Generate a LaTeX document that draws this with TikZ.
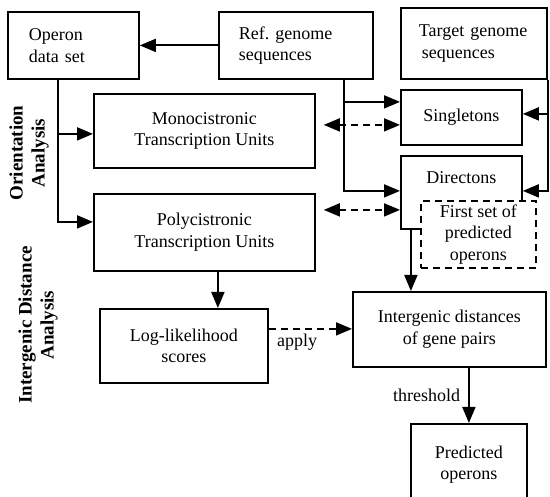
\documentclass[tikz,border=0pt]{standalone}
\usepackage{fontspec}
\setmainfont{Liberation Serif}
\usetikzlibrary{arrows.meta,positioning}

\begin{document}
\begin{tikzpicture}[x=1pt,y=-1pt,>={Triangle[length=16pt,width=13pt]},
    every node/.style={font=\fontsize{18}{21.5}\selectfont,inner sep=2pt},
    box/.style={draw,line width=1.8pt,fill=white,align=center,anchor=north west},
    side/.style={rotate=90,align=center,font=\fontsize{19}{22}\selectfont\bfseries},
    arr/.style={line width=1.8pt,->},
    darr/.style={line width=1.8pt,<->,dash pattern=on 7pt off 5pt,shorten <=8pt}]
  \useasboundingbox (0,0) rectangle (550,497);

  % inputs
  \node[box,align=left,text width=89pt,inner xsep=21pt,minimum height=67pt] (operon) at (7,11) {Operon\\data set};
  \node[box,align=left,text width=114pt,inner xsep=20pt,minimum height=67pt] (ref) at (218,11) {Ref.\ genome\\sequences};
  \node[box,align=left,text width=110pt,inner xsep=18pt,minimum height=71pt] (target) at (400,7) {Target genome\\\hspace*{3pt}sequences};

  % orientation analysis
  \node[box,minimum width=221pt,minimum height=74pt] (mono) at (93,93) {Monocistronic\\Transcription Units};
  \node[box,minimum width=221pt,minimum height=77pt] (poly) at (93,193) {Polycistronic\\Transcription Units};
  \node[box,minimum width=121pt,minimum height=55pt] (single) at (400,89) {Singletons};
  \node[box,minimum width=121pt,minimum height=73pt] (dir) at (400,155) {};
  \node[below=14pt of dir.north] (dirlbl) {Directons};
  \node[box,dash pattern=on 7pt off 5pt,minimum width=115pt,minimum height=67pt] (first) at (420,200) {First set of\\predicted\\operons};

  % intergenic distance analysis
  \node[box,minimum width=168pt,minimum height=74pt] (log) at (99,308) {Log-likelihood\\scores};
  \node[box,minimum width=193pt,minimum height=75pt] (inter) at (352,291) {Intergenic distances\\of gene pairs};
  \node[box,minimum width=116pt,minimum height=82pt] (pred) at (410,423) {Predicted\\operons};

  \node[side] (orient) at (29,153) {Orientation\\Analysis};
  \node[side] (idist) at (38,325) {Intergenic Distance\\Analysis};

  \coordinate (opdown) at ([xshift=-15.5pt]operon.south);
  \coordinate (refdown) at ([xshift=48pt]ref.south);

  \draw[arr] (ref.west) -- (operon.east);
  \draw[arr] (opdown) |- ([yshift=-3pt]mono.west);
  \draw[arr] (opdown) |- ([yshift=10.5pt]poly.west);
  \draw[arr] (refdown) |- ([yshift=15.5pt]single.west);
  \draw[arr] (refdown) |- ([yshift=1.5pt]dir.west);
  \draw[arr] (target.south east) |- ([yshift=3.5pt]single.east);
  \draw[arr] (target.south east) |- ([yshift=1.5pt]dir.east);

  \draw[darr] ([yshift=6pt]mono.east) -- ([yshift=-7.5pt]single.west);
  \draw[darr] ([yshift=22.5pt]poly.east) -- ([yshift=-17.5pt]dir.west);

  \draw[arr] ([xshift=-50.5pt]dir.south) -- ([xshift=-38.5pt]inter.north);
  \draw[arr] ([xshift=13.5pt]poly.south) -- ([xshift=34pt]log.north);
  \draw[arr,dash pattern=on 7pt off 5pt] ([yshift=17pt]log.east) -- ([yshift=0.5pt]inter.west)
    node[pos=0.34,below=2pt] (applylbl) {apply};
  \draw[arr] ([xshift=19.5pt]inter.south) -- (pred.north)
    node[midway,left=6pt] (thrlbl) {threshold};
\end{tikzpicture}
\end{document}
